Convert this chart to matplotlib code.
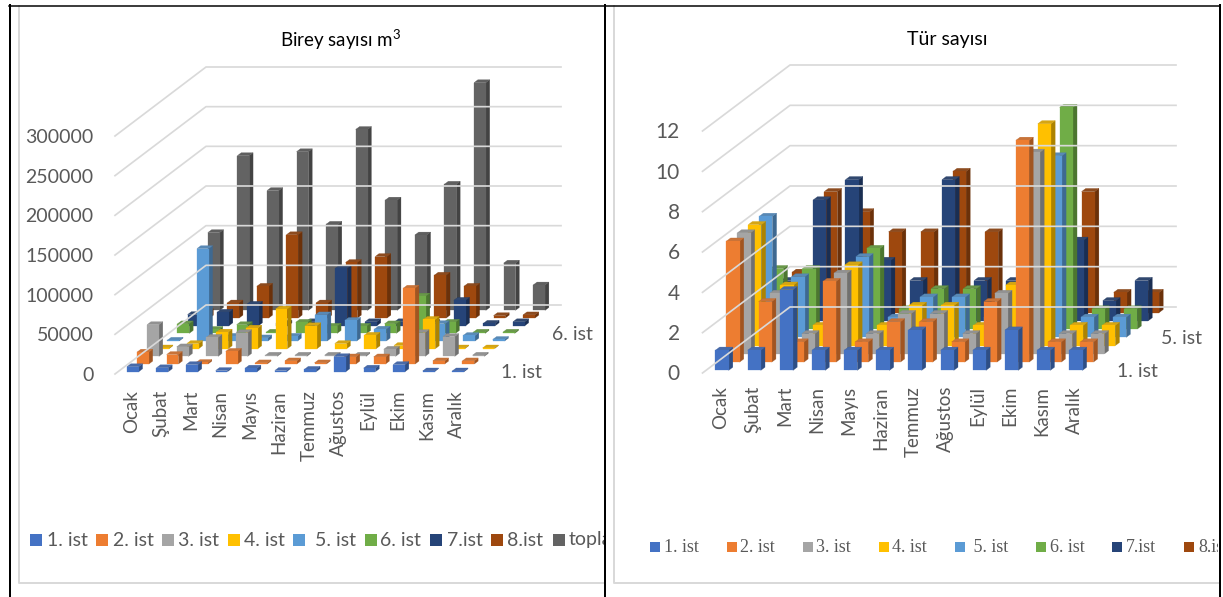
import matplotlib
matplotlib.use('Agg')
import matplotlib.pyplot as plt
from matplotlib.colors import to_rgb
from matplotlib.patches import Polygon, Rectangle

plt.rcParams['font.family'] = ['Lato', 'DejaVu Sans']
plt.rcParams['mathtext.fontset'] = 'custom'
plt.rcParams['mathtext.rm'] = 'Lato'

W, H = 1223, 597

months = ['Ocak', 'Şubat', 'Mart', 'Nisan', 'Mayıs', 'Haziran', 'Temmuz', 'Ağustos', 'Eylül', 'Ekim', 'Kasım', 'Aralık']
station_names = ['1. ist', '2. ist', '3. ist', '4. ist', ' 5. ist', '6. ist', '7.ist', '8.ist', 'toplam']
colors = ['#4472C4', '#ED7D31', '#A5A5A5', '#FFC000', '#5B9BD5', '#70AD47', '#264478', '#9E480E', '#636363']

# individuals per m3
birey_1 = [6300, 5000, 9000, 1500, 4500, 1500, 3000, 19000, 4500, 9000, 1000, 1000]
birey_2 = [15000, 12000, 2000, 16000, 1500, 4000, 1500, 9000, 9000, 95600, 4000, 4000]
birey_3 = [40000, 12000, 24000, 30000, 1500, 1500, 1500, 1500, 9000, 30000, 25000, 1500]
birey_4 = [1000, 6500, 21000, 26000, 50000, 29000, 6500, 17000, 4000, 37000, 1000, 1000]
birey_5 = [1000, 116500, 6000, 4000, 6000, 33000, 26000, 15000, 5000, 22000, 7000, 2000]
birey_6 = [12000, 5000, 11000, 1500, 14000, 9000, 9000, 12000, 47000, 14000, 1500, 1500]
birey_7 = [14000, 17000, 27000, 3000, 5000, 72500, 5000, 5000, 4000, 32000, 3000, 5000]
birey_8 = [8000, 19000, 40000, 105000, 19000, 70000, 77500, 10000, 54000, 40000, 3000, 4000]
birey_toplam = [98000, 195000, 151000, 200000, 108500, 228000, 139000, 95000, 159000, 287000, 59500, 32000]
birey = [birey_1, birey_2, birey_3, birey_4, birey_5, birey_6, birey_7, birey_8, birey_toplam]
birey_ticks = [0, 50000, 100000, 150000, 200000, 250000, 300000]

# number of species
tur_1 = [1, 1, 4, 1, 1, 1, 2, 1, 1, 2, 1, 1]
tur_2 = [6, 3, 1, 4, 1, 2, 2, 1, 3, 11, 1, 1]
tur_3 = [6, 3, 1, 4, 1, 2, 2, 1, 3, 10, 1, 1]
tur_4 = [6, 3, 1, 4, 1, 2, 2, 1, 3, 11, 1, 1]
tur_5 = [6, 3, 1, 4, 1, 2, 2, 1, 3, 9, 1, 1]
tur_6 = [3, 3, 1, 4, 1, 2, 2, 1, 3, 11, 1, 1]
tur_7 = [2, 6, 7, 3, 2, 7, 2, 2, 2, 4, 1, 2]
tur_8 = [2, 6, 5, 4, 4, 7, 4, 2, 2, 6, 1, 1]
tur = [tur_1, tur_2, tur_3, tur_4, tur_5, tur_6, tur_7, tur_8]
tur_ticks = [0, 2, 4, 6, 8, 10, 12]


def shade(color, k):
    return tuple(c * k for c in to_rgb(color))


def lighten(color, k):
    return tuple(c + (1 - c) * k for c in to_rgb(color))


def px(n):
    return n * 72 / 100


def bars_3d(ax, series, depth_x, depth_y, bar_w, bar_d, front):
    # oblique bars: every series is shifted up and right by one depth step
    n = len(series)
    step_x = depth_x / n
    step_y = depth_y / n
    gap = (1 - bar_w) / 2
    for s in range(n - 1, -1, -1):
        c = colors[s]
        for i, v in enumerate(series[s]):
            x0 = i + gap + (s + front) * step_x
            y0 = (s + front) * step_y
            x1 = x0 + bar_w
            y1 = y0 + v
            dx = bar_d * step_x
            dy = bar_d * step_y
            ax.add_patch(Polygon([(x1, y0), (x1 + dx, y0 + dy), (x1 + dx, y1 + dy), (x1, y1)],
                                 fc=shade(c, 0.68), ec=shade(c, 0.68), lw=0.2))
            ax.add_patch(Polygon([(x0, y1), (x1, y1), (x1 + dx, y1 + dy), (x0 + dx, y1 + dy)],
                                 fc=lighten(shade(c, 0.82), 0.08), ec=shade(c, 0.82), lw=0.2))
            ax.add_patch(Rectangle((x0, y0), bar_w, v, fc=c, ec=c, lw=0.2))


def draw_chart(box, series, ticks, title, title_x, title_size, tick_size, tick_x, depth_labels, depth_off, front,
               month_y, bar_w, bar_d):
    # left and right of the floor's back edge, top gridline at the back,
    # floor's front edge, and the corner of the top gridline at the front
    left, right, top, bottom, back_left, front_top = box
    depth_px = back_left - left
    month_px = (right - back_left) / 12
    depth_x = depth_px / month_px
    top_value = ticks[-1]
    depth_y = top_value * (front_top - top) / (bottom - front_top)

    ax = fig.add_axes([left / W, 1 - bottom / H, (right - left) / W, (bottom - top) / H])
    ax.patch.set_alpha(0)
    ax.axis('off')
    ax.set_xlim(0, 12 + depth_x)
    ax.set_ylim(0, top_value + depth_y)

    for t in ticks:
        ax.plot([0, depth_x, 12 + depth_x], [t, t + depth_y, t + depth_y], color='#D9D9D9', lw=px(1.7), clip_on=False)
        ax.text(tick_x, t - top_value / 170, str(t), ha='right', va='center', fontsize=tick_size, color='#595959')

    bars_3d(ax, series, depth_x, depth_y, bar_w, bar_d, front)

    for i, m in enumerate(months):
        fig.text((left + month_px * (i + 0.55)) / W, 1 - month_y / H, m, rotation=90,
                 ha='center', va='top', fontsize=13.5, color='#595959')

    step_x = depth_x / len(series)
    step_y = depth_y / len(series)
    for s, label in depth_labels:
        ax.text(12 + s * step_x + depth_off, s * step_y + top_value / 160, label, ha='left', va='center',
                fontsize=14, color='#595959')

    fig.text(title_x / W, 1 - 40 / H, title, ha='center', va='center', fontsize=title_size, color='black')


fig = plt.figure(figsize=(W / 100, H / 100), dpi=100)

# page layer in pixel coordinates: table rules, chart borders and legends
bg = fig.add_axes([0, 0, 1, 1])
bg.set_xlim(0, W)
bg.set_ylim(H, 0)
bg.axis('off')

bg.plot([19, 19, 604], [6, 583, 583], color='#D9D9D9', lw=px(2))
bg.plot([1218, 614, 614], [583, 583, 6], color='#D9D9D9', lw=px(2))
bg.plot([9, 1220], [5.5, 5.5], color='black', lw=px(1.5))
for x in [9.5, 605, 1219.5]:
    bg.plot([x, x], [5, H], color='black', lw=px(2))

left_clip = Rectangle((0, 0), 604, H, transform=bg.transData)
right_clip = Rectangle((0, 0), 1218, H, transform=bg.transData)

swatch_left = [30, 96, 161.5, 227.6, 293, 364.6, 430, 491, 552.5]
text_left = [46.7, 113, 178, 244, 310, 380.5, 446.7, 507, 569]
for i, name in enumerate(station_names):
    bg.add_patch(Rectangle((swatch_left[i], 534), 12, 12, fc=colors[i], ec='none'))
    t = bg.text(text_left[i], 540, name, fontsize=14, color='#595959', va='center', clip_on=True)
    t.set_clip_path(left_clip)

swatch_right = [650, 727, 802.5, 879, 955, 1036, 1112, 1184]
text_right = [664, 740, 816, 892, 969, 1050, 1126, 1198]
for i, name in enumerate(station_names[:8]):
    bg.add_patch(Rectangle((swatch_right[i], 542), 10, 10, fc=colors[i], ec='none'))
    t = bg.text(text_right[i], 547, name, fontsize=13, color='#595959', va='center', family='Liberation Serif',
                clip_on=True)
    t.set_clip_path(right_clip)

draw_chart((115, 561, 67, 374, 206, 136), birey, birey_ticks, r'Birey sayısı m$^{\mathrm{3}}$', 341, 13.5, 14, -0.72,
           [(0, '1. ist'), (5, '6. ist')], 1.05, 0.3, 390, 0.4, 0.38)
draw_chart((702.5, 1176, 65, 373, 790, 131), tur, tur_ticks, 'Tür sayısı', 947, 14, 15, -0.7,
           [(0, '1. ist'), (4, '5. ist')], 0.88, 0.32, 386, 0.41, 0.38)

fig.savefig('out.png', dpi=100)
